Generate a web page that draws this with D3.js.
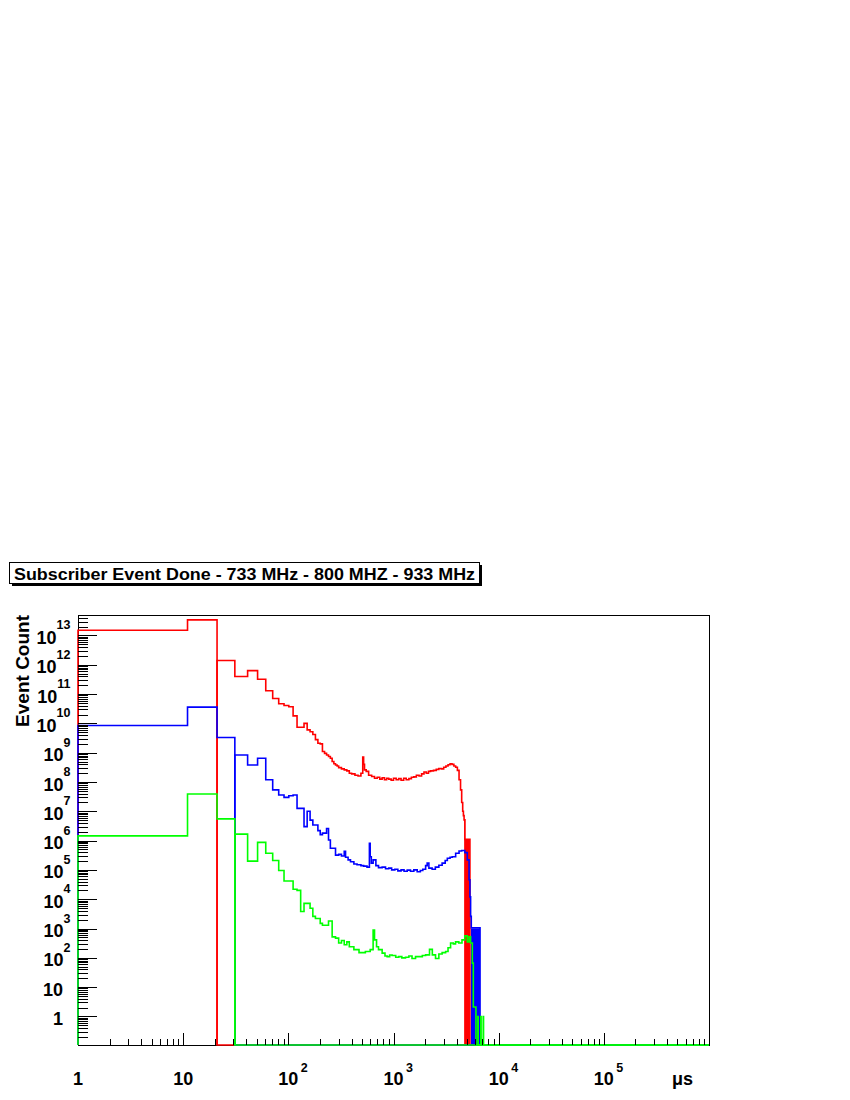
<!DOCTYPE html>
<html>
<head>
<meta charset="utf-8">
<script src="https://cdn.jsdelivr.net/npm/d3@7/dist/d3.min.js"></script>
<style>
  body { margin: 0; background: #fff; }
  text { font-family: "Liberation Sans", Arial, Helvetica, sans-serif; font-weight: bold; fill: #000; }
</style>
</head>
<body>
<div id="chart"></div>
<script>
//////////////////////////////////////////////////////////////
//////////////////////////// Data ////////////////////////////
//////////////////////////////////////////////////////////////

const title = "Subscriber Event Done - 733 MHz - 800 MHZ - 933 MHz";

// bin start (us), event count -- first block of bins, empty after the break
const redA = [[1, 1.5e13], [11, 3.4e13], [21, 0]];
const blueA = [[1, 8.5e9], [11, 3.6e10], [21, 3.3e9], [31, 0]];
const greenA = [[1, 1.45e6], [11, 3.9e7], [21, 5.5e6], [31, 0]];

// second block of bins, starting at the break
const redB = [
  [21, 1.4e12], [31, 4.0e11], [41, 6.3e11], [51, 3.2e11], [61, 1.3e11], [71, 7.1e10],
  [81, 4.7e10], [91, 4.1e10], [101, 3.7e10], [111, 1.8e10], [121, 7.4e9], [141, 1.0e10],
  [151, 6.0e9], [161, 5.2e9], [171, 4.2e9], [181, 2.8e9], [191, 2.1e9], [201, 2.0e9],
  [211, 1.1e9], [221, 9.5e8], [231, 8.3e8], [241, 7.4e8], [251, 6.5e8], [261, 5.0e8],
  [271, 4.2e8], [281, 3.8e8], [291, 3.5e8], [301, 3.1e8], [320, 2.8e8], [340, 2.6e8],
  [360, 2.4e8], [380, 2.0e8], [400, 1.9e8], [430, 1.7e8], [460, 1.6e8], [490, 2.0e8],
  [510, 7.1e8], [520, 4.0e8], [530, 2.6e8], [550, 2.3e8], [580, 1.7e8], [620, 1.55e8],
  [660, 1.35e8], [700, 1.45e8], [740, 1.25e8], [780, 1.4e8], [820, 1.2e8], [860, 1.35e8],
  [900, 1.25e8], [950, 1.15e8], [1000, 1.35e8], [1060, 1.2e8], [1120, 1.3e8], [1180, 1.15e8],
  [1250, 1.35e8], [1320, 1.2e8], [1400, 1.3e8], [1480, 1.45e8], [1560, 1.5e8], [1650, 1.7e8],
  [1750, 1.6e8], [1850, 1.9e8], [1950, 2.2e8], [2050, 2.0e8], [2150, 2.3e8], [2250, 2.4e8],
  [2400, 2.5e8], [2550, 2.7e8], [2700, 2.9e8], [2850, 2.8e8], [3000, 3.2e8], [3150, 3.5e8],
  [3300, 3.9e8], [3450, 4.2e8], [3600, 4.0e8], [3750, 3.5e8], [3900, 3.2e8], [4050, 2.5e8],
  [4200, 1.2e8], [4340, 5.4e7], [4450, 2.0e7], [4550, 1.0e7], [4620, 7.1e6], [4690, 5.1e6],
  [4780, 1.1e6], [5330, 0]
];
const blueB = [
  [31, 8.3e8], [41, 3.8e8], [51, 6.5e8], [61, 1.2e8], [71, 5.4e7], [81, 3.6e7],
  [91, 3.0e7], [101, 3.4e7], [111, 3.6e7], [121, 1.26e7], [141, 3.0e6], [151, 1.0e7],
  [161, 5.0e6], [171, 3.4e6], [191, 2.2e6], [201, 1.6e6], [211, 1.8e6], [231, 2.6e6],
  [241, 1.05e6], [251, 5.5e5], [281, 3.2e5], [301, 3.4e5], [320, 3.0e5], [340, 4.3e5],
  [350, 2.7e5], [370, 2.2e5], [390, 1.9e5], [420, 1.6e5], [450, 1.5e5], [490, 1.4e5],
  [520, 1.35e5], [560, 1.25e5], [590, 8.1e5], [600, 2.8e5], [615, 1.7e5], [640, 2.2e5],
  [680, 1.4e5], [720, 1.2e5], [780, 1.25e5], [840, 1.1e5], [900, 1.15e5], [960, 1.0e5],
  [1030, 1.05e5], [1100, 9.3e4], [1180, 1.0e5], [1260, 9.0e4], [1350, 9.8e4], [1450, 9.0e4],
  [1560, 1.0e5], [1680, 8.7e4], [1800, 9.5e4], [1900, 1.05e5], [2020, 1.4e5], [2090, 1.7e5],
  [2170, 1.15e5], [2330, 1.05e5], [2500, 1.25e5], [2700, 1.45e5], [2900, 1.7e5], [3100, 2.1e5],
  [3250, 2.5e5], [3450, 2.7e5], [3620, 2.8e5], [3900, 3.7e5], [4200, 4.4e5], [4450, 4.6e5],
  [4770, 3.9e5], [5030, 2.2e5], [5230, 4.6e4], [5330, 1.2e4], [5410, 2.6e3], [5490, 1.05e3],
  [6650, 0]
];
const greenB = [
  [31, 1.66e6], [41, 2.0e5], [51, 8.7e5], [61, 3.7e5], [71, 2.1e5], [81, 9.5e4],
  [91, 4.2e4], [111, 2.2e4], [121, 2.0e4], [131, 3.8e3], [141, 7.2e3], [161, 4.9e3],
  [171, 2.6e3], [181, 2.2e3], [201, 1.5e3], [211, 1.3e3], [241, 1.8e3], [261, 5.2e2],
  [281, 4.7e2], [301, 3.2e2], [320, 3.9e2], [340, 2.8e2], [360, 3.5e2], [380, 2.4e2],
  [420, 1.9e2], [470, 1.5e2], [540, 1.65e2], [600, 1.9e2], [640, 8.9e2], [660, 4.1e2],
  [690, 2.4e2], [720, 1.9e2], [780, 1.45e2], [830, 1.15e2], [870, 1.1e2], [920, 1.25e2],
  [970, 1.2e2], [1050, 1.05e2], [1120, 1.1e2], [1200, 1.0e2], [1300, 1.05e2], [1400, 1.15e2],
  [1500, 9.5e1], [1620, 1.1e2], [1740, 1.1e2], [1880, 1.2e2], [2020, 1.26e2], [2200, 1.95e2],
  [2340, 1.26e2], [2510, 9.5e1], [2700, 1.35e2], [2900, 1.5e2], [3130, 1.65e2], [3300, 2.2e2],
  [3490, 3.2e2], [3700, 3.0e2], [3890, 3.5e2], [4180, 3.2e2], [4480, 4.1e2], [4760, 5.6e2],
  [5030, 3.5e2], [5230, 5.2e2], [5410, 3.2e2], [5620, 6.6e1], [5740, 2.1], [6080, 0],
  [6340, 1], [6390, 0], [6760, 1], [6810, 0], [7130, 1], [7180, 0]
];

// dense bins in the cut-off region (many bins per pixel read as a solid block)
const redBand = [[4690, 4780, 5.1e6], [4780, 5330, 1.1e6]];
const blueBand = [[5450, 6650, 1.0e3]];

const yExponents = d3.range(0, 14);
const xExponents = d3.range(0, 6);

//////////////////////////////////////////////////////////////
/////////////////////////// Setup ////////////////////////////
//////////////////////////////////////////////////////////////

const svg = d3.select("#chart").append("svg").attr("width", 850).attr("height", 1100);
svg.append("rect").attr("width", 850).attr("height", 1100).attr("fill", "#fff");

const frame = { left: 78, top: 615, right: 709, bottom: 1045 };
const x = d3.scaleLog().domain([1, 1e6]).range([frame.left, frame.right]);
const y = d3.scaleLog().domain([0.106, 5e13]).range([frame.bottom, frame.top]);
const yPos = (v) => (v > 0 ? y(v) : frame.bottom);

const line = d3
  .line()
  .x((d) => x(d[0]))
  .y((d) => yPos(d[1]))
  .curve(d3.curveStepAfter);

//Title box with shadow
svg.append("rect").attr("x", 12).attr("y", 565).attr("width", 470).attr("height", 21).attr("fill", "#000");
svg
  .append("rect")
  .attr("x", 9.5)
  .attr("y", 562.5)
  .attr("width", 470)
  .attr("height", 21)
  .attr("fill", "#fff")
  .attr("stroke", "#000");
svg
  .append("text")
  .attr("x", 14)
  .attr("y", 579.5)
  .attr("textLength", 461)
  .attr("lengthAdjust", "spacingAndGlyphs")
  .style("font-size", "16.5px")
  .text(title);

//Frame
svg
  .append("rect")
  .attr("x", frame.left)
  .attr("y", frame.top)
  .attr("width", frame.right - frame.left)
  .attr("height", frame.bottom - frame.top)
  .attr("fill", "none")
  .attr("stroke", "#000")
  .attr("shape-rendering", "crispEdges");

//////////////////////////////////////////////////////////////
///////////////////////// Histograms /////////////////////////
//////////////////////////////////////////////////////////////

const series = [
  { color: "#ff0000", a: redA, b: redB, band: redBand },
  { color: "#0000ff", a: blueA, b: blueB, band: blueBand },
  { color: "#00ff00", a: greenA, b: greenB, band: [] },
];

series.forEach((s) => {
  const g = svg.append("g");
  g.selectAll("rect")
    .data(s.band)
    .enter()
    .append("rect")
    .attr("x", (d) => x(d[0]))
    .attr("width", (d) => x(d[1]) - x(d[0]))
    .attr("y", (d) => y(d[2]))
    .attr("height", (d) => frame.bottom - y(d[2]))
    .attr("fill", s.color);

  [s.a, s.b].forEach((h) => {
    const pts = [[h[0][0], 0]].concat(h, [[1e6, 0]]);
    g.append("path")
      .attr("d", line(pts))
      .attr("fill", "none")
      .attr("stroke", s.color)
      .attr("stroke-width", 1.6);
  });
});

//////////////////////////////////////////////////////////////
//////////////////////////// Axes ////////////////////////////
//////////////////////////////////////////////////////////////

const ticks = svg.append("g").attr("stroke", "#000").attr("shape-rendering", "crispEdges");

//y ticks, pointing into the frame
d3.range(-1, 14).forEach((e) => {
  d3.range(1, 10).forEach((k) => {
    const v = k * Math.pow(10, e);
    if (v < y.domain()[0] || v > y.domain()[1]) return;
    const py = Math.round(y(v)) + 0.5;
    ticks.append("line")
      .attr("x1", frame.left).attr("x2", frame.left + (k === 1 ? 19 : 10))
      .attr("y1", py).attr("y2", py);
  });
});

//x ticks
d3.range(0, 7).forEach((e) => {
  d3.range(1, 10).forEach((k) => {
    const v = k * Math.pow(10, e);
    if (v > 1e6 || v === 1) return;
    const px = Math.round(x(v)) + 0.5;
    ticks.append("line")
      .attr("x1", px).attr("x2", px)
      .attr("y1", frame.bottom).attr("y2", frame.bottom - (k === 1 ? 12.5 : 6));
  });
});

//y labels
yExponents.forEach((e) => {
  const py = y(Math.pow(10, e));
  if (e < 2) {
    svg.append("text")
      .attr("x", 63).attr("y", py + 8.5)
      .attr("text-anchor", "end")
      .style("font-size", "18px")
      .text(e === 0 ? "1" : "10");
  } else {
    const t = svg.append("text")
      .attr("x", 70.5).attr("y", py + 8.5)
      .attr("text-anchor", "end")
      .style("font-size", "18px");
    t.append("tspan").text("10");
    t.append("tspan").attr("dy", -14.5).style("font-size", "12.5px").text(e);
  }
});

//x labels
xExponents.forEach((e) => {
  const px = x(Math.pow(10, e));
  svg.append("text")
    .attr("x", px).attr("y", 1084.5)
    .attr("text-anchor", "middle")
    .style("font-size", "18px")
    .text(e === 0 ? "1" : "10");
  if (e >= 2) {
    svg.append("text")
      .attr("x", px + 12.5).attr("y", 1072)
      .style("font-size", "12.5px")
      .text(e);
  }
});

//axis titles
svg.append("text")
  .attr("x", 693).attr("y", 1084.5)
  .attr("text-anchor", "end")
  .style("font-size", "18px")
  .text("\u03bcs");

svg.append("text")
  .attr("transform", "translate(29,615) rotate(-90)")
  .attr("text-anchor", "end")
  .style("font-size", "19px")
  .text("Event Count");
</script>
</body>
</html>
